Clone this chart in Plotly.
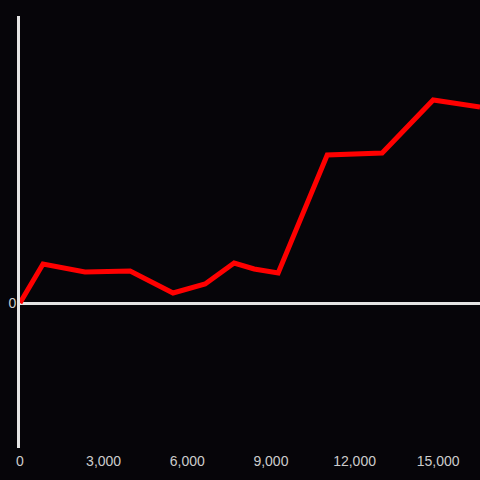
import plotly.graph_objects as go

x_vals = [0, 825, 2330, 3950, 5490, 6640, 7680, 8400, 9260, 11020, 12990, 14820, 16500]
y_vals = [0, 39, 31, 32, 10, 19, 40, 34, 30, 148, 150, 203, 196]
x_ticks = [0, 3000, 6000, 9000, 12000, 15000]
x_tick_text = ["0", "3,000", "6,000", "9,000", "12,000", "15,000"]

bg = "#060509"
axis_col = "#e4e4e4"
text_col = "#cccccc"

fig = go.Figure(go.Scatter(x=x_vals, y=y_vals, mode="lines",
                           line=dict(color="#ff0000", width=5),
                           cliponaxis=True, hoverinfo="skip"))
fig.update_layout(
    width=480, height=480,
    paper_bgcolor=bg, plot_bgcolor=bg,
    margin=dict(l=20, r=0, t=16, b=32),
    showlegend=False,
    font=dict(family="Liberation Sans, Arial, sans-serif", size=14, color=text_col),
    xaxis=dict(range=[0, 16500], tickvals=x_ticks, ticktext=x_tick_text,
               showgrid=False, zeroline=False, showline=False, ticks="",
               ticklabelstandoff=3,
               automargin=False, layer="below traces"),
    yaxis=dict(range=[-145, 287], tickvals=[0], ticktext=["0"],
               showgrid=False, zeroline=True, zerolinecolor=axis_col, zerolinewidth=3,
               showline=True, linecolor=axis_col, linewidth=3, ticks="",
               ticklabelstandoff=-2,
               automargin=False, layer="below traces"),
)
fig.write_html("out.html", config={"displayModeBar": False},
               post_script="document.body.style.margin='0';document.body.style.background='%s';" % bg)
